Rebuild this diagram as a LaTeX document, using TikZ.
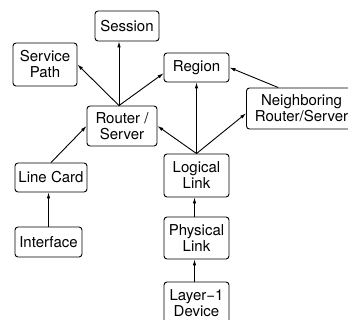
\documentclass[tikz,border=0pt]{standalone}
\usepackage{fontspec}
\setmainfont{TeX Gyre Heros}
\usetikzlibrary{arrows.meta}
\begin{document}
\begin{tikzpicture}[x=1pt,y=-1pt,line width=0.9pt,
		box/.style={draw,rounded corners=3pt,align=center,inner sep=0pt,
			minimum width=65pt,minimum height=42pt,font=\fontsize{15}{16}\selectfont},
		arr/.style={-{Latex[length=6pt,width=3.6pt]}}]
	\clip (0,0) rectangle (348,320);
	% boxes
	\node[box,minimum width=64pt,minimum height=30pt] (session) at (127,26) {Session};
	\node[box,minimum width=64pt,minimum height=43pt] (svc) at (45,64.5) {Service\\Path};
	\node[box,minimum width=70pt,minimum height=40pt] (router) at (122,126) {Router /\\Server};
	\node[box,minimum height=29pt] (region) at (196.5,67.5) {Region};
	\node[box,minimum width=110pt,minimum height=41pt] (neighbor) at (301.5,108.5) {Neighboring\\Router/Server};
	\node[box,minimum height=43pt] (logical) at (196.5,175.5) {Logical\\Link};
	\node[box] (physical) at (196.5,238) {Physical\\Link};
	\node[box] (layer) at (196.5,303) {Layer−1\\Device};
	\node[box,minimum width=72pt,minimum height=29pt] (linecard) at (51,177.5) {Line Card};
	\node[box,minimum width=67pt,minimum height=30pt] (interface) at (48.5,242) {Interface};
	% arrows
	\coordinate (rtop) at ([xshift=-3pt]router.north);
	\draw[arr] (rtop) -- (rtop|-session.south);
	\draw[arr] (rtop) -- (svc.east);
	\draw[arr] (rtop) -- (region.190);
	\draw[arr] (linecard.north) -- (router.west);
	\draw[arr] (logical.north) -- (router.east);
	\draw[arr] (logical.north) -- (region.south);
	\draw[arr] (logical.north) -- (neighbor.185);
	\draw[arr] (neighbor.138) -- (region.east);
	\draw[arr] (interface.north) -- (interface.north|-linecard.south);
	\draw[arr] ([xshift=-2pt]physical.north) -- ([xshift=-2pt]logical.south);
	\draw[arr] ([xshift=-2pt]layer.north) -- ([xshift=-2pt]physical.south);
\end{tikzpicture}
\end{document}
